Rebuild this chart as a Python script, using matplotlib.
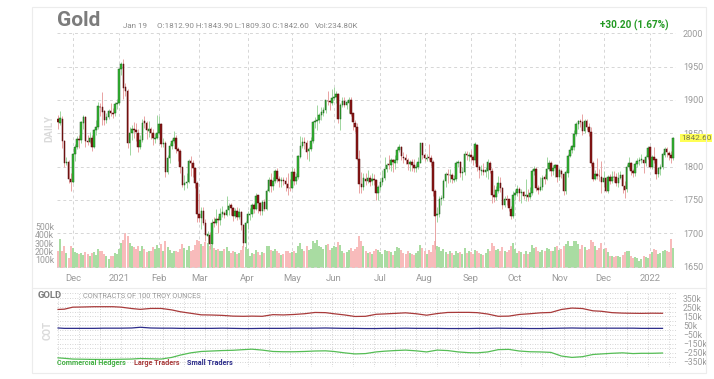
import matplotlib
matplotlib.use('Agg')
import matplotlib.pyplot as plt
import numpy as np
import pandas as pd
from matplotlib.patches import Rectangle
from matplotlib.lines import Line2D

plt.rcParams['font.family'] = ['Roboto', 'DejaVu Sans']

# ---------------- data ----------------
holidays = ['2020-11-26', '2020-12-25', '2021-01-01', '2021-01-18', '2021-02-15',
            '2021-04-02', '2021-05-31', '2021-07-05', '2021-09-06', '2021-11-25',
            '2021-12-24', '2022-01-17']
dates = pd.bdate_range('2020-11-19', '2022-01-19')
dates = dates[~dates.isin(pd.to_datetime(holidays))]

opens = [
    1872, 1866, 1872, 1838, 1805, 1807, 1782,
    1777, 1819, 1830, 1841, 1840, 1866, 1875, 1838, 1837, 1843, 1830, 1855, 1859, 1890, 1889, 1883, 1870, 1875, 1883, 1880, 1880, 1894,
    1895, 1947, 1954, 1919, 1914, 1835, 1851, 1856, 1855, 1851, 1830, 1840, 1868, 1866, 1853, 1856, 1851, 1842, 1843,
    1850, 1864, 1834, 1835, 1792, 1813, 1831, 1838, 1843, 1827, 1823, 1799, 1773, 1775, 1777, 1808, 1806, 1798, 1775,
    1729, 1723, 1734, 1716, 1696, 1698, 1684, 1717, 1716, 1722, 1720, 1729, 1731, 1727, 1735, 1742, 1738, 1726, 1734, 1725, 1732, 1712, 1685,
    1716, 1727, 1729, 1743, 1737, 1757, 1745, 1733, 1747, 1737, 1764, 1780, 1771, 1779, 1793, 1782, 1778, 1780, 1779, 1774, 1768,
    1768, 1792, 1779, 1784, 1815, 1831, 1837, 1836, 1823, 1826, 1838, 1867, 1868, 1870, 1877, 1881, 1885, 1899, 1898, 1896,
    1903, 1904, 1909, 1871, 1892, 1899, 1893, 1896, 1900, 1880, 1866, 1860, 1812, 1774, 1769, 1782, 1779, 1783, 1778, 1782, 1780, 1761,
    1770, 1777, 1783, 1797, 1804, 1803, 1810, 1806, 1810, 1825, 1829, 1815, 1813, 1810, 1804, 1807, 1802, 1798, 1799, 1806, 1835,
    1817, 1812, 1814, 1813, 1807, 1763, 1727, 1729, 1752, 1753, 1778, 1789, 1787, 1788, 1780, 1782, 1806, 1807, 1790, 1792, 1819, 1816,
    1818, 1815, 1810, 1833, 1799, 1793, 1795, 1792, 1794, 1806, 1794, 1757, 1754, 1764, 1776, 1768, 1743, 1752, 1751, 1737, 1726,
    1757, 1761, 1767, 1760, 1762, 1756, 1757, 1755, 1760, 1794, 1797, 1768, 1765, 1770, 1784, 1782, 1796, 1806, 1793, 1798, 1802,
    1784, 1794, 1789, 1764, 1791, 1816, 1825, 1830, 1849, 1864, 1868, 1867, 1854, 1868, 1860, 1852, 1805, 1782, 1789, 1786, 1785,
    1777, 1783, 1763, 1784, 1779, 1785, 1784, 1776, 1783, 1787, 1771, 1766, 1799, 1805, 1794, 1790, 1804, 1809, 1810, 1810, 1805, 1814,
    1829, 1800, 1815, 1811, 1789, 1797, 1800, 1818, 1826, 1821, 1818, 1812.9,
]
highs = [
    1877, 1883, 1876, 1840, 1815, 1810, 1790,
    1821, 1834, 1846, 1848, 1869, 1877, 1876, 1848, 1852, 1847, 1857, 1870, 1897, 1895, 1912, 1885, 1880, 1886, 1895, 1888, 1897, 1902,
    1948, 1957, 1962, 1926, 1917, 1859, 1863, 1867, 1865, 1857, 1847, 1871, 1876, 1869, 1868, 1860, 1856, 1851, 1877,
    1876, 1866, 1843, 1838, 1818, 1836, 1842, 1853, 1847, 1829, 1826, 1800, 1788, 1790, 1812, 1816, 1810, 1800, 1779,
    1760, 1740, 1740, 1722, 1704, 1702, 1721, 1724, 1737, 1726, 1738, 1741, 1733, 1756, 1746, 1746, 1740, 1738, 1739, 1738, 1734, 1714, 1718,
    1733, 1738, 1746, 1745, 1760, 1758, 1747, 1750, 1752, 1767, 1785, 1791, 1784, 1796, 1798, 1786, 1785, 1784, 1784, 1790, 1781,
    1799, 1798, 1790, 1817, 1846, 1845, 1844, 1840, 1830, 1844, 1869, 1875, 1892, 1880, 1890, 1889, 1900, 1913, 1900, 1917,
    1919, 1913, 1911, 1895, 1904, 1904, 1900, 1905, 1904, 1881, 1870, 1866, 1825, 1792, 1790, 1790, 1795, 1787, 1790, 1789, 1781, 1773,
    1783, 1795, 1815, 1806, 1818, 1813, 1811, 1818, 1830, 1834, 1831, 1822, 1819, 1813, 1810, 1812, 1812, 1806, 1815, 1836, 1836,
    1820, 1819, 1834, 1818, 1810, 1766, 1740, 1756, 1758, 1782, 1792, 1796, 1796, 1791, 1787, 1808, 1810, 1808, 1799, 1823, 1823, 1822,
    1825, 1818, 1837, 1834, 1802, 1802, 1805, 1800, 1811, 1809, 1798, 1772, 1771, 1786, 1785, 1770, 1756, 1758, 1752, 1741, 1764,
    1765, 1772, 1770, 1766, 1764, 1782, 1766, 1770, 1796, 1801, 1799, 1772, 1785, 1788, 1789, 1815, 1810, 1809, 1802, 1804, 1803,
    1798, 1797, 1791, 1795, 1819, 1829, 1833, 1855, 1867, 1870, 1872, 1879, 1872, 1872, 1866, 1860, 1809, 1795, 1813, 1796, 1808,
    1793, 1785, 1788, 1789, 1793, 1793, 1790, 1792, 1793, 1789, 1779, 1804, 1815, 1807, 1797, 1807, 1813, 1814, 1819, 1812, 1818, 1831,
    1831, 1817, 1829, 1812, 1799, 1804, 1822, 1830, 1829, 1824, 1823, 1843.9,
]
lows = [
    1856, 1863, 1828, 1800, 1802, 1775, 1764,
    1775, 1808, 1827, 1828, 1835, 1857, 1830, 1832, 1836, 1823, 1828, 1848, 1857, 1876, 1862, 1863, 1865, 1872, 1876, 1873, 1876, 1887,
    1892, 1937, 1902, 1906, 1828, 1817, 1840, 1843, 1838, 1822, 1826, 1837, 1858, 1841, 1845, 1842, 1833, 1835, 1841,
    1849, 1829, 1829, 1785, 1789, 1806, 1826, 1836, 1821, 1808, 1790, 1769, 1765, 1768, 1775, 1786, 1785, 1768, 1717,
    1717, 1706, 1712, 1688, 1683, 1677, 1683, 1710, 1713, 1700, 1712, 1725, 1723, 1726, 1728, 1728, 1719, 1723, 1720, 1721, 1705, 1680, 1677,
    1706, 1720, 1725, 1731, 1735, 1730, 1727, 1727, 1733, 1735, 1762, 1762, 1765, 1775, 1777, 1770, 1770, 1772, 1764, 1757, 1764,
    1767, 1773, 1774, 1782, 1813, 1828, 1826, 1812, 1808, 1823, 1836, 1858, 1855, 1866, 1870, 1876, 1880, 1893, 1885, 1893,
    1900, 1896, 1866, 1855, 1889, 1890, 1886, 1880, 1876, 1855, 1852, 1810, 1761, 1761, 1765, 1772, 1776, 1771, 1772, 1772, 1750, 1750,
    1765, 1773, 1780, 1792, 1797, 1794, 1792, 1797, 1805, 1822, 1810, 1806, 1804, 1795, 1794, 1793, 1792, 1792, 1797, 1805, 1812,
    1808, 1808, 1810, 1801, 1756, 1677, 1717, 1725, 1743, 1750, 1770, 1776, 1777, 1776, 1777, 1779, 1799, 1785, 1780, 1788, 1810, 1808,
    1808, 1803, 1806, 1794, 1783, 1787, 1787, 1785, 1781, 1790, 1745, 1747, 1750, 1760, 1762, 1737, 1739, 1742, 1733, 1721, 1723,
    1750, 1756, 1748, 1746, 1751, 1749, 1748, 1751, 1757, 1788, 1763, 1759, 1763, 1765, 1774, 1780, 1794, 1786, 1788, 1784, 1777,
    1780, 1783, 1758, 1759, 1785, 1814, 1820, 1825, 1846, 1857, 1860, 1847, 1850, 1855, 1846, 1801, 1779, 1780, 1781, 1779, 1761,
    1770, 1762, 1760, 1774, 1775, 1777, 1771, 1770, 1782, 1760, 1753, 1762, 1796, 1788, 1785, 1786, 1799, 1803, 1805, 1790, 1801, 1811,
    1798, 1797, 1806, 1782, 1785, 1787, 1797, 1815, 1815, 1810, 1805, 1809.3,
]
closes = [
    1866.5, 1872.4, 1837.8, 1805.5, 1807.4, 1781.9, 1776.9,
    1818.9, 1830.2, 1841.1, 1840.0, 1866.3, 1874.9, 1838.5, 1837.4, 1843.0, 1829.8, 1855.3, 1858.9, 1890.4, 1888.9, 1882.7, 1870.3, 1874.7, 1883.2, 1880.3, 1879.7, 1893.9, 1895.1,
    1946.6, 1954.4, 1918.6, 1913.6, 1835.4, 1850.8, 1856.2, 1855.1, 1851.4, 1829.9, 1840.2, 1865.9, 1865.9, 1855.7, 1855.9, 1850.8, 1843.0, 1843.2, 1850.3,
    1863.9, 1834.0, 1835.1, 1792.1, 1813.0, 1831.1, 1837.8, 1842.6, 1827.0, 1823.2, 1799.0, 1773.2, 1775.3, 1777.4, 1808.4, 1805.9, 1797.9, 1775.4, 1728.8,
    1723.0, 1733.6, 1715.8, 1697.8, 1698.5, 1683.9, 1716.2, 1716.0, 1722.0, 1719.8, 1729.4, 1731.4, 1727.1, 1735.2, 1741.7, 1738.0, 1726.3, 1734.2, 1725.1, 1732.2, 1712.2, 1685.5, 1715.6,
    1728.4, 1728.8, 1743.2, 1737.0, 1756.5, 1744.8, 1733.1, 1746.9, 1737.0, 1764.0, 1780.0, 1771.0, 1779.2, 1793.0, 1782.1, 1777.8, 1780.5, 1778.6, 1773.6, 1768.0, 1767.7,
    1792.3, 1779.1, 1784.3, 1815.3, 1831.3, 1836.7, 1836.1, 1822.6, 1826.2, 1838.1, 1867.0, 1868.3, 1869.6, 1876.8, 1881.3, 1884.6, 1899.3, 1898.0, 1896.4, 1902.5,
    1903.6, 1909.5, 1871.5, 1892.0, 1899.1, 1893.0, 1896.4, 1900.0, 1879.6, 1866.3, 1859.5, 1812.0, 1774.4, 1769.0, 1782.4, 1779.1, 1783.1, 1777.7, 1781.8, 1780.2, 1761.0, 1770.1,
    1777.0, 1783.3, 1796.6, 1803.2, 1803.0, 1810.5, 1806.5, 1809.5, 1825.4, 1829.0, 1815.3, 1812.6, 1810.0, 1803.6, 1806.6, 1802.1, 1797.9, 1799.2, 1806.4, 1835.6, 1817.2,
    1813.6, 1813.6, 1812.6, 1806.9, 1763.1, 1726.5, 1729.4, 1751.8, 1753.2, 1778.2, 1789.0, 1787.4, 1788.0, 1781.7, 1781.8, 1806.0, 1806.8, 1790.4, 1792.5, 1819.2, 1817.8, 1818.1,
    1815.2, 1810.0, 1833.7, 1798.9, 1794.4, 1794.5, 1792.1, 1794.3, 1806.3, 1794.4, 1757.1, 1754.3, 1764.3, 1775.6, 1768.0, 1742.8, 1751.6, 1750.6, 1737.5, 1726.1, 1757.0,
    1761.0, 1767.2, 1760.3, 1761.5, 1756.2, 1757.1, 1755.0, 1760.4, 1793.5, 1797.0, 1768.1, 1765.0, 1770.1, 1782.4, 1782.1, 1796.3, 1806.1, 1793.3, 1798.4, 1802.4, 1783.9,
    1794.4, 1788.9, 1763.9, 1791.3, 1816.5, 1824.9, 1830.3, 1849.4, 1863.9, 1868.5, 1866.7, 1853.8, 1868.5, 1859.8, 1852.0, 1805.4, 1782.2, 1789.1, 1785.5, 1785.3, 1776.5,
    1782.6, 1763.0, 1783.9, 1779.0, 1785.1, 1783.9, 1775.6, 1782.9, 1787.4, 1771.1, 1765.7, 1799.0, 1804.9, 1794.0, 1790.2, 1803.9, 1808.8, 1809.8, 1810.3, 1805.3, 1814.1, 1828.6,
    1800.1, 1814.6, 1810.7, 1789.1, 1797.4, 1800.1, 1818.5, 1826.5, 1821.3, 1818.0, 1812.4, 1842.6,
]
volumes_k = [
    205, 345, 200, 265, 180, 120, 260,
    240, 190, 175, 170, 180, 160, 195, 170, 150, 175, 190, 160, 230, 200, 210, 165, 150, 105, 140, 150, 175, 165,
    230, 300, 340, 420, 390, 300, 260, 250, 230, 270, 210, 260, 230, 190, 200, 210, 250, 230, 280,
    240, 290, 210, 330, 250, 220, 180, 200, 210, 190, 230, 290, 240, 220, 260, 210, 220, 280, 340,
    330, 290, 270, 310, 300, 270, 280, 240, 220, 230, 200, 210, 230, 250, 210, 180, 200, 190, 170, 180, 220, 260, 250,
    230, 150, 180, 170, 220, 190, 160, 190, 180, 270, 260, 220, 200, 230, 210, 180, 160, 170, 200, 210, 180,
    190, 200, 180, 260, 300, 230, 210, 270, 220, 230, 320, 300, 340, 260, 250, 230, 280, 290, 220, 240,
    260, 250, 310, 280, 200, 180, 190, 220, 240, 210, 230, 250, 380, 320, 260, 200, 180, 190, 170, 200, 230, 220,
    190, 170, 220, 200, 210, 190, 160, 200, 250, 240, 220, 180, 170, 200, 180, 170, 160, 180, 200, 280, 240,
    200, 170, 220, 190, 280, 330, 260, 250, 200, 230, 190, 170, 200, 180, 160, 200, 180, 190, 170, 240, 180, 200,
    190, 170, 220, 200, 180, 170, 160, 180, 230, 200, 300, 260, 220, 230, 200, 250, 210, 190, 220, 260, 300,
    230, 180, 200, 190, 170, 210, 170, 190, 280, 240, 250, 200, 190, 220, 200, 240, 230, 210, 200, 250, 260,
    220, 230, 270, 290, 320, 260, 270, 320, 330, 290, 230, 280, 250, 220, 230, 340, 310, 260, 220, 240, 300,
    230, 240, 190, 150, 140, 130, 150, 140, 130, 160, 190, 200, 210, 140, 120, 130, 120, 90, 110, 140, 130, 120,
    170, 190, 230, 220, 170, 180, 210, 220, 200, 190, 350, 235,
]

# Commitments of Traders (weekly, thousands of contracts)
cot_weeks = pd.date_range('2020-11-17', '2022-01-11', freq='7D')
cot_large = [225, 228, 250, 252, 255, 255, 255, 250, 235, 226, 236, 236, 220, 200, 183, 166, 164, 160, 152, 150,
             152, 150, 168, 165, 170, 178, 192, 190, 178, 165, 148, 150, 172, 176, 182, 188, 178, 162, 180, 192,
             193, 193, 190, 175, 150, 152, 170, 178, 188, 192, 225, 240, 235, 210, 205, 190, 185, 183, 182, 184, 183]
cot_commercial = [-305, -310, -318, -320, -322, -322, -322, -320, -318, -312, -315, -318, -300, -275, -250, -235, -230, -225, -222, -215,
                  -210, -220, -235, -238, -238, -235, -230, -228, -235, -250, -262, -258, -240, -232, -225, -220, -228, -240, -220, -225,
                  -240, -248, -250, -240, -215, -212, -230, -238, -240, -245, -285, -300, -292, -268, -262, -255, -250, -258, -255, -255, -252]
cot_small = [22, 18, 18, 18, 18, 20, 20, 20, 22, 30, 22, 20, 20, 18, 18, 18, 18, 20, 18, 16,
             16, 18, 18, 18, 20, 20, 20, 22, 20, 18, 18, 16, 16, 18, 18, 20, 18, 18, 18, 16,
             16, 16, 18, 18, 20, 18, 18, 16, 16, 18, 20, 22, 20, 20, 20, 20, 20, 20, 18, 18, 18]

price_ticks = [1650, 1700, 1750, 1800, 1850, 1900, 1950, 2000]
vol_ticks = [100, 200, 300, 400, 500]
cot_ticks = [350, 250, 150, 50, -50, -150, -250, -350]

# ---------------- figure ----------------
W, H = 714, 379
fig = plt.figure(figsize=(W / 100, H / 100), dpi=100)
fig.patch.set_facecolor('white')

def fx(px):
    return px / W

def fy(py):
    return 1 - py / H

# outer frame and separator
fig.add_artist(Rectangle((fx(32), fy(373)), fx(706) - fx(32), fy(7) - fy(373),
                         transform=fig.transFigure, fill=False, edgecolor='#ececec', lw=0.8))
fig.add_artist(Line2D([fx(32), fx(706)], [fy(288), fy(288)], transform=fig.transFigure,
                      color='#ececec', lw=0.8))

n = len(closes)
idx = np.arange(n)
o = np.array(opens, float)
h = np.array(highs, float)
l = np.array(lows, float)
c = np.array(closes, float)
v = np.array(volumes_k, float)
up = c >= o

x_left, x_right = 57, 676
y_top, y_bot = 33.3, 268
axv = fig.add_axes([fx(x_left), fy(y_bot), fx(x_right) - fx(x_left), fy(y_top) - fy(y_bot)])
axp = axv.twinx()
xlim = (-0.5, n + 0.4)

# volume
vcol = np.where(up, '#a9dca2', '#f8bbbb')
axv.bar(idx, v, width=0.95, color=vcol, linewidth=0, zorder=1)
axv.set_ylim(0, 2817)
axv.set_xlim(*xlim)
axv.set_yticks(vol_ticks)
axv.set_yticklabels([f'{t}k' for t in vol_ticks])
axv.tick_params(axis='y', labelsize=6.3, colors='#9a9a9a', length=0, pad=2)

# month ticks
month_starts = [0] + [i for i in range(1, n) if dates[i].month != dates[i - 1].month]
month_starts = [i for i in month_starts if dates[i].day <= 7]
labels = [str(dates[i].year) if dates[i].month == 1 else dates[i].strftime('%b') for i in month_starts]
axv.set_xticks(month_starts)
axv.set_xticklabels(labels)
axv.tick_params(axis='x', labelsize=6.8, colors='#9a9a9a', length=0, pad=4)
axv.grid(axis='x', linestyle=(0, (3, 3)), color='#d6d6d6', lw=0.7)
axv.set_axisbelow(True)
for s in axv.spines.values():
    s.set_visible(False)

# candles
wick_col = np.where(up, '#9fd69f', '#e9a3a3')
axp.vlines(idx, l, h, colors=wick_col, lw=0.7, zorder=2)
body_bottom = np.minimum(o, c)
body_h = np.maximum(np.abs(c - o), 0.8)
axp.bar(idx, body_h, bottom=body_bottom, width=0.72,
        color=np.where(up, '#33bb33', '#8e1616'),
        edgecolor=np.where(up, '#1d5e1d', '#4e0b0b'), linewidth=0.35, zorder=3)
axp.set_ylim(1648, 2000)
axp.set_xlim(*xlim)
axp.set_yticks(price_ticks)
axp.tick_params(axis='y', labelsize=6.5, colors='#9a9a9a', length=0, pad=5)
axp.grid(axis='y', linestyle=(0, (3, 3)), color='#d6d6d6', lw=0.7, zorder=0)
for s in axp.spines.values():
    s.set_visible(False)

# last price tag
axp.annotate(f'{closes[-1]:.2f}', xy=(1.0, closes[-1]), xycoords=('axes fraction', 'data'),
             xytext=(3.5, 0), textcoords='offset points', fontsize=6.0, color='#7a7a50',
             va='center', ha='left', zorder=10,
             bbox=dict(boxstyle='square,pad=0.12', fc='#ffff55', ec='none'))

# header texts
fig.text(fx(57), fy(20), 'Gold', fontsize=15, fontweight='bold', color='#7c7c7c', va='center', ha='left')
fig.text(fx(123), fy(26), 'Jan 19', fontsize=5.8, color='#8a8a8a', va='center')
fig.text(fx(157), fy(26), 'O:1812.90 H:1843.90 L:1809.30 C:1842.60', fontsize=5.8, color='#8a8a8a', va='center')
fig.text(fx(315), fy(26), 'Vol:234.80K', fontsize=5.8, color='#8a8a8a', va='center')
fig.text(fx(668), fy(25), '+30.20 (1.67%)', fontsize=7.2, fontweight='bold', color='#229922',
         va='center', ha='right')
fig.text(fx(49), fy(128), 'DAILY', fontsize=7, fontweight='bold', color='#dadada',
         rotation=90, va='center', ha='center')

# ---------------- COT panel ----------------
c_top, c_bot = 292, 367
axc = fig.add_axes([fx(x_left), fy(c_bot), fx(x_right) - fx(x_left), fy(c_top) - fy(c_bot)])
wx = np.searchsorted(dates.values, cot_weeks.values)
axc.plot(wx, cot_large, color='#a83a3a', lw=0.9)
axc.plot(wx, cot_small, color='#2c2c8a', lw=0.9)
axc.plot(wx, cot_commercial, color='#55bd55', lw=0.9)
axc.set_xlim(*xlim)
axc.set_ylim(-405, 416)
axc.yaxis.tick_right()
axc.set_yticks(cot_ticks)
axc.set_yticklabels([f'{t}k' if t > 0 else f'\u2212{-t}k' for t in cot_ticks])
axc.tick_params(axis='y', labelsize=6.2, colors='#9a9a9a', length=0, pad=5)
axc.set_xticks([])
for yy in range(-400, 401, 50):
    axc.axhline(yy, color='#c8c8c8', lw=0.6, linestyle=(0, (1, 2)), zorder=0)
for xx in np.arange(0, n, 10):
    axc.axvline(xx, color='#c8c8c8', lw=0.6, linestyle=(0, (1, 2)), zorder=0)
for s in axc.spines.values():
    s.set_visible(False)

fig.text(fx(38), fy(296), 'GOLD', fontsize=6.8, fontweight='bold', color='#7c7c7c', va='center')
fig.text(fx(83), fy(296), 'CONTRACTS OF 100 TROY OUNCES', fontsize=5.3, color='#9a9a9a', va='center')
fig.text(fx(48), fy(330), 'COT', fontsize=7, fontweight='bold', color='#dadada', rotation=90,
         va='center', ha='center')
fig.text(fx(57), fy(363), 'Commercial Hedgers', fontsize=5.2, fontweight='bold', color='#44b044', va='center')
fig.text(fx(134), fy(363), 'Large Traders', fontsize=5.2, fontweight='bold', color='#a83a3a', va='center')
fig.text(fx(187), fy(363), 'Small Traders', fontsize=5.2, fontweight='bold', color='#2c2c8a', va='center')

fig.savefig('out.png', dpi=100)
